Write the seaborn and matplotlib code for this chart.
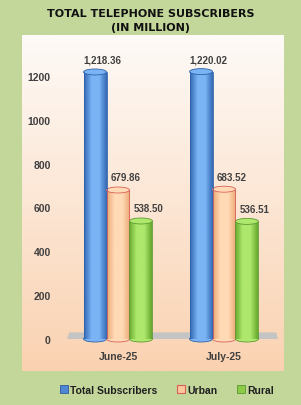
import numpy as np
import pandas as pd
import matplotlib
matplotlib.use("Agg")
import matplotlib.pyplot as plt
import seaborn as sns
from matplotlib.patches import Ellipse, Polygon, Patch
from matplotlib.colors import LinearSegmentedColormap

months = ["June-25", "July-25"]
series = ["Total Subscribers", "Urban", "Rural"]
total = [1218.36, 1220.02]
urban = [679.86, 683.52]
rural = [538.50, 536.51]
yticks = [0, 200, 400, 600, 800, 1000, 1200]

df = pd.DataFrame({
    "Month": months * 3,
    "Series": [s for s in series for _ in months],
    "Value": total + urban + rural,
})

sns.set_theme(style="white")
plt.rcParams["font.family"] = ["Liberation Sans", "DejaVu Sans"]

W, H = 301, 406
fig = plt.figure(figsize=(W / 100, H / 100), dpi=100, facecolor="#C4D79B")


def fr(x0, y0, x1, y1):
    return [x0 / W, 1 - y1 / H, (x1 - x0) / W, (y1 - y0) / H]


# panel background gradient
bg = fig.add_axes(fr(22, 36, 284, 372))
bg.axis("off")
grad = np.linspace(0, 1, 256).reshape(-1, 1)
bg.imshow(grad, aspect="auto", extent=[0, 1, 0, 1],
          cmap=LinearSegmentedColormap.from_list("bg", ["#FEFAF7", "#FAD2B1"]))

ax = fig.add_axes(fr(55, 36, 284, 340))
ax.set_facecolor("none")

body = {"Total Subscribers": ("#3469B5", "#7AB4F5", "#2F62A8"),
        "Urban": ("#ECAA78", "#FFDAB5", "#D9605A"),
        "Rural": ("#66AA2E", "#AEE86C", "#5E9A32")}
palette = {k: v[1] for k, v in body.items()}

sns.barplot(data=df, x="Month", y="Value", hue="Series", hue_order=series,
            order=months, palette=palette, width=0.65, saturation=1,
            legend=False, ax=ax, linewidth=0)

ymax = (340 - 36) / ((340 - 77) / 1200)
ax.set_xlim(-(118 - 55) / 106, 1 + (284 - 224) / 106)
ax.set_ylim(0, ymax)
ecap = 6 / ((340 - 77) / 1200)

bars = list(ax.patches)

# floor
floor = Polygon([(-0.48, 0), (1.51, 0), (1.49, ecap * 1.1), (-0.46, ecap * 1.1)],
                closed=True, facecolor="#C4C4C4", edgecolor="none", zorder=1,
                clip_on=False)
ax.add_patch(floor)

for p in bars:
    x, w, h = p.get_x(), p.get_width(), p.get_height()
    fc = p.get_facecolor()
    key = min(body, key=lambda k: sum((np.array(matplotlib.colors.to_rgb(body[k][1])) - np.array(fc[:3])) ** 2))
    dark, light, edge = body[key]
    cm = LinearSegmentedColormap.from_list("c", [dark, light, light, dark])
    gx = np.linspace(0, 1, 64).reshape(1, -1)
    p.set_facecolor("none")
    p.set_edgecolor("none")
    p.set_zorder(3)
    im = ax.imshow(gx, aspect="auto", cmap=cm, extent=[x, x + w, 0, h], zorder=2.5)
    im.set_clip_path(p)
    ax.add_patch(Ellipse((x + w / 2, 0), w, ecap, facecolor=light, edgecolor=edge,
                         linewidth=0.6, zorder=2.2, clip_on=False))
    ax.add_patch(Ellipse((x + w / 2, h), w, ecap, facecolor=light, edgecolor=edge,
                         linewidth=0.6, zorder=2.8))
    ax.plot([x, x], [0, h], color=edge, lw=0.6, zorder=2.9)
    ax.plot([x + w, x + w], [0, h], color=edge, lw=0.6, zorder=2.9)
    ax.annotate(f"{h:,.2f}", (x + w / 2, h), xytext=(5.5, 9), textcoords="offset points",
                ha="center", va="center", fontsize=7, fontweight="bold",
                color="#404040")

ax.set_xlim(-(118 - 55) / 106, 1 + (284 - 224) / 106)
ax.set_ylim(0, ymax)
ax.set_yticks(yticks)
ax.set_yticklabels([str(t) for t in yticks])
ax.tick_params(axis="y", length=0, pad=3, labelsize=7.5, labelcolor="#404040")
ax.tick_params(axis="x", length=0, pad=9, labelsize=7.5, labelcolor="#404040")
for lab in ax.get_xticklabels() + ax.get_yticklabels():
    lab.set_fontweight("bold")
ax.set_xlabel("")
ax.set_ylabel("")
for s in ax.spines.values():
    s.set_visible(False)

fig.text(0.5, 1 - 14 / H, "TOTAL TELEPHONE SUBSCRIBERS", ha="center", va="center",
         fontsize=8.0, fontweight="bold", color="#111111", family="DejaVu Sans")
fig.text(0.5, 1 - 28 / H, "(IN MILLION)", ha="center", va="center",
         fontsize=8.0, fontweight="bold", color="#111111", family="DejaVu Sans")

handles = [Patch(facecolor="#4F86D6", edgecolor="#2A5A9A", linewidth=0.6),
           Patch(facecolor="#FCC79A", edgecolor="#D9605A", linewidth=0.8),
           Patch(facecolor="#8CCB45", edgecolor="#5B9630", linewidth=0.6)]
leg = fig.legend(handles, series, loc="center", bbox_to_anchor=(167 / W, 1 - 391 / H),
                 ncol=3, frameon=False, fontsize=7.5, handlelength=0.8,
                 handleheight=0.8, handletextpad=0.2, columnspacing=1.85)
for t in leg.get_texts():
    t.set_fontweight("bold")
    t.set_color("#1F1F1F")

fig.savefig("out.png", dpi=100, facecolor=fig.get_facecolor())
